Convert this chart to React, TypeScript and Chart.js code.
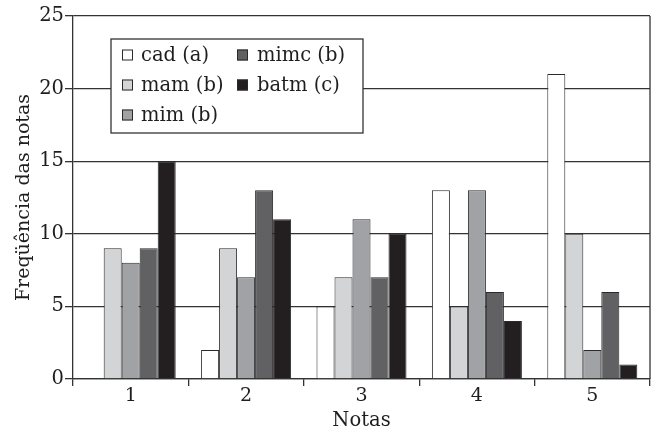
import React, { useEffect, useRef } from "react";
import { Chart, registerables } from "chart.js";

Chart.register(...registerables);

const categories = ["1", "2", "3", "4", "5"];
const seriesLabels = ["cad (a)", "mam (b)", "mim (b)", "mimc (b)", "batm (c)"];
const cad = [0, 2, 5, 13, 21];
const mam = [9, 9, 7, 5, 10];
const mim = [8, 7, 11, 13, 2];
const mimc = [9, 13, 7, 6, 6];
const batm = [15, 11, 10, 4, 1];
const seriesColors = ["#ffffff", "#d3d4d6", "#a1a2a5", "#616163", "#231f20"];
const yTicks = [0, 5, 10, 15, 20, 25];

const FONT = "'DejaVu Serif', serif";
const LINE = "#333333";
const TEXT = "#1e1e1e";

const boxLegend = {
  id: "boxLegend",
  afterDraw(chart: any) {
    const ctx = chart.ctx;
    const area = chart.chartArea;
    const x0 = area.left + 38;
    const y0 = area.top + 23;
    const w = 252;
    const h = 94;
    ctx.save();
    ctx.fillStyle = "#ffffff";
    ctx.fillRect(x0, y0, w, h);
    ctx.strokeStyle = LINE;
    ctx.lineWidth = 1.3;
    ctx.strokeRect(x0, y0, w, h);
    ctx.font = `19.5px ${FONT}`;
    ctx.textBaseline = "middle";
    ctx.textAlign = "left";
    chart.data.datasets.forEach((ds: any, i: number) => {
      const col = Math.floor(i / 3);
      const row = i % 3;
      const cy = y0 + 16 + row * 30;
      const sx = x0 + (col === 0 ? 11 : 126);
      const tx = x0 + (col === 0 ? 30 : 146);
      ctx.fillStyle = ds.backgroundColor;
      ctx.fillRect(sx, cy - 5.5, 11, 11);
      ctx.strokeStyle = "#2a2a2a";
      ctx.lineWidth = 1;
      ctx.strokeRect(sx + 0.5, cy - 5, 10, 10);
      ctx.fillStyle = TEXT;
      ctx.fillText(ds.label, tx, cy + 1);
    });
    ctx.restore();
  },
};

const rightBorder = {
  id: "rightBorder",
  afterDatasetsDraw(chart: any) {
    const ctx = chart.ctx;
    const a = chart.chartArea;
    ctx.save();
    ctx.strokeStyle = LINE;
    ctx.lineWidth = 1.3;
    ctx.beginPath();
    ctx.moveTo(a.right, a.top);
    ctx.lineTo(a.right, a.bottom);
    ctx.stroke();
    ctx.restore();
  },
};

export default function App() {
  const ref = useRef<HTMLCanvasElement>(null);

  useEffect(() => {
    if (!ref.current) return;
    const values = [cad, mam, mim, mimc, batm];
    const chart = new Chart(ref.current, {
      type: "bar",
      data: {
        labels: categories,
        datasets: values.map((v, i) => ({
          label: seriesLabels[i],
          data: v,
          backgroundColor: seriesColors[i],
          borderColor: "#2a2a2a",
          borderWidth: 1,
          barPercentage: 1,
          categoryPercentage: 0.78,
        })),
      },
      options: {
        responsive: false,
        animation: false,
        layout: { padding: { left: 0, top: 16, right: 4, bottom: 0 } },
        plugins: {
          legend: { display: false },
          tooltip: { enabled: false },
        },
        scales: {
          x: {
            afterFit(scale: any) {
              scale.height = 48;
            },
            grid: {
              offset: true,
              drawOnChartArea: false,
              drawTicks: true,
              tickLength: 7,
              color: LINE,
              lineWidth: 1.3,
            },
            border: { display: true, color: LINE, width: 1.3 },
            ticks: {
              font: { family: FONT, size: 19, lineHeight: 1 },
              color: TEXT,
              padding: 1,
            },
            title: {
              display: true,
              text: "Notas",
              font: { family: FONT, size: 19.5, lineHeight: 1.2 },
              color: TEXT,
              padding: { top: 0, bottom: -6 },
            },
          },
          y: {
            min: 0,
            max: 25,
            afterFit(scale: any) {
              scale.width = 73;
            },
            afterBuildTicks(scale: any) {
              scale.ticks = yTicks.map((v) => ({ value: v }));
            },
            grid: {
              drawOnChartArea: true,
              drawTicks: true,
              tickLength: 8,
              color: LINE,
              lineWidth: 1.3,
            },
            border: { display: true, color: LINE, width: 1.3 },
            ticks: {
              font: { family: FONT, size: 19.5 },
              color: TEXT,
              padding: 1,
            },
            title: {
              display: true,
              text: "Freqüência das notas",
              font: { family: FONT, size: 19, lineHeight: 1.2 },
              color: TEXT,
              padding: { top: 13, bottom: 0 },
            },
          },
        },
      },
      plugins: [rightBorder, boxLegend],
    });
    return () => chart.destroy();
  }, []);

  return (
    <div style={{ position: "absolute", left: 0, top: 0, width: 654, height: 427, background: "#fff" }}>
      <canvas ref={ref} width={654} height={427} style={{ display: "block" }} />
    </div>
  );
}
